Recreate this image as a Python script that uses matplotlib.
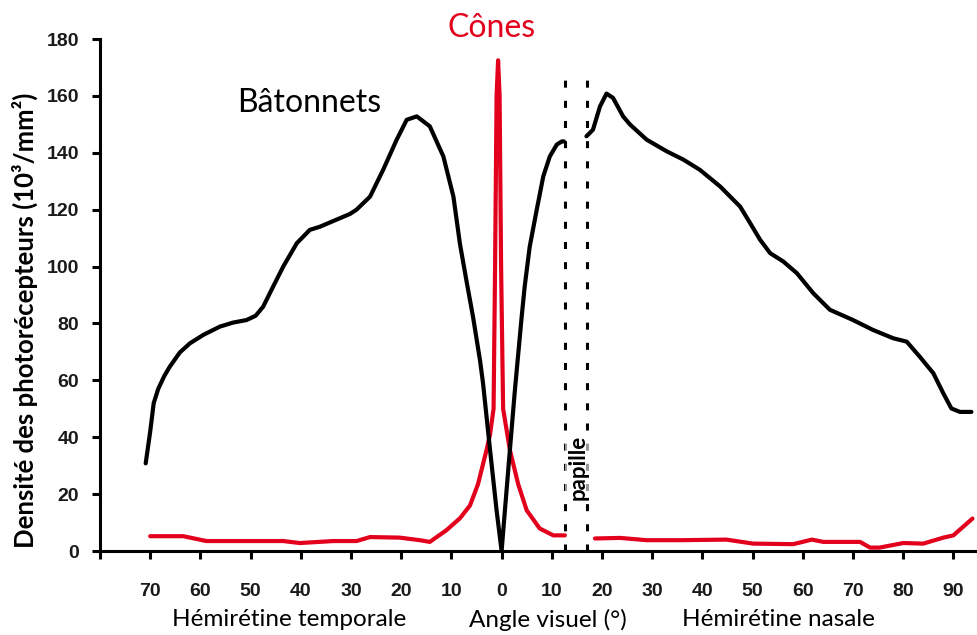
import numpy as np
import matplotlib
matplotlib.use("Agg")
import matplotlib.pyplot as plt

# ---- data (degrees: negative = temporal hemiretina, positive = nasal) ----
rods_deg = [-70.9, -70.0, -69.3, -68.4, -67.2, -66.1, -64.1, -62.1, -59.4, -56.1,
            -53.5, -50.8, -49.0, -47.5, -45.5, -43.5, -40.8, -38.2, -36.2, -34.2,
            -32.2, -30.2, -28.9, -26.2, -23.6, -20.9, -18.9, -16.9, -14.3, -11.6,
            -9.6, -8.3, -7.0, -5.7, -4.3, -3.7, -2.3, -1.0, 0.0,
            0.66, 1.65, 2.65, 4.0, 4.6, 5.6, 7.0, 8.3, 9.6, 11.0, 12.0, 12.4,
            np.nan,
            16.9, 18.2, 19.6, 20.9, 22.2, 24.2, 25.6, 28.9, 32.9, 36.2, 39.5, 43.5,
            47.5, 49.5, 51.5, 53.5, 56.1, 58.8, 62.1, 65.4, 70.0, 74.0, 78.0, 80.7,
            83.3, 86.0, 88.0, 89.6, 91.3, 93.6]
rods_val = [30.8, 42.0, 52.0, 57.0, 61.5, 64.8, 69.8, 73.0, 76.0, 78.9,
            80.3, 81.2, 82.7, 85.9, 93.0, 100.0, 108.2, 112.9, 114.0, 115.5,
            117.0, 118.5, 120.0, 124.6, 134.0, 144.6, 151.6, 152.8, 149.3, 138.7,
            124.6, 108.0, 95.0, 82.4, 67.0, 59.0, 35.5, 14.3, 0.0,
            14.3, 35.5, 56.6, 82.4, 93.0, 107.0, 120.0, 131.7, 138.7, 142.9, 144.0, 144.0,
            np.nan,
            145.8, 148.1, 156.3, 160.8, 159.3, 152.8, 149.9, 144.6, 140.5, 137.6, 134.0, 128.2,
            121.1, 115.3, 109.4, 104.7, 101.8, 97.7, 90.6, 84.8, 81.2, 77.7, 74.8, 73.6,
            68.3, 62.5, 55.4, 50.1, 48.9, 48.9]

cones_deg = [-70.0, -63.4, -58.8, -43.5, -40.2, -33.5, -28.9, -26.2, -20.3, -16.3, -14.3,
             -11.0, -8.3, -6.3, -4.7, -3.0, -2.3, -1.6, -1.3, -1.0, -0.7, -0.4, -0.1,
             0.3, 1.65, 3.3, 5.0, 7.6, 10.3, 12.6,
             np.nan,
             18.6, 23.6, 28.9, 35.5, 44.8, 50.1, 58.1, 61.8, 64.1, 71.4, 73.4, 75.3,
             80.0, 84.0, 88.0, 90.0, 93.8]
cones_val = [5.2, 5.2, 3.5, 3.5, 2.8, 3.5, 3.5, 4.9, 4.7, 3.8, 3.2,
             7.3, 11.5, 16.0, 23.5, 35.5, 41.0, 50.0, 100.0, 160.0, 172.5, 160.0, 100.0,
             50.0, 35.5, 23.5, 14.3, 7.9, 5.5, 5.5,
             np.nan,
             4.4, 4.6, 3.8, 3.8, 4.0, 2.6, 2.4, 4.0, 3.2, 3.2, 1.2, 1.2,
             2.8, 2.6, 4.7, 5.5, 11.4]

papille_bounds = [12.6, 17.1]
papille_top = 167.5

xticks = [-80, -70, -60, -50, -40, -30, -20, -10, 0, 10, 20, 30, 40, 50, 60, 70, 80, 90]
xtick_labels = ["", "70", "60", "50", "40", "30", "20", "10", "0",
                "10", "20", "30", "40", "50", "60", "70", "80", "90"]
yticks = [0, 20, 40, 60, 80, 100, 120, 140, 160, 180]

RED = "#e2001c"
TXT_FONT = ["Lato", "DejaVu Sans"]

fig = plt.figure(figsize=(9.77, 6.35), dpi=100)
ax = fig.add_axes([100 / 977, 84 / 635, 1 - 100 / 977, (551 - 39) / 635])

ax.plot(cones_deg, cones_val, color=RED, lw=3.0, solid_capstyle="round",
        solid_joinstyle="round", zorder=3)
ax.plot(rods_deg, rods_val, color="black", lw=3.0, solid_capstyle="round",
        solid_joinstyle="round", zorder=4)

for xb in papille_bounds:
    ax.plot([xb, xb], [0, papille_top], color="black", lw=2.2,
            linestyle=(0, (2.3, 4.3)), zorder=2, clip_on=False)

ax.set_xlim(-80, 94.7)
ax.set_ylim(0, 180)
ax.set_xticks(xticks)
ax.set_xticklabels(xtick_labels)
ax.set_yticks(yticks)

for s in ["top", "right"]:
    ax.spines[s].set_visible(False)
for s in ["left", "bottom"]:
    ax.spines[s].set_linewidth(2.2)

ax.tick_params(axis="both", direction="out", width=2.2, length=6,
               labelsize=14)
ax.tick_params(axis="x", pad=17)
ax.tick_params(axis="y", pad=9)
for lab in ax.get_xticklabels() + ax.get_yticklabels():
    lab.set_fontfamily("Liberation Sans")
    lab.set_fontweight("bold")
    lab.set_color("#1a1a1a")

# annotations
ax.text(-52.6, 154.5, "Bâtonnets", fontsize=23, family=TXT_FONT,
        ha="left", va="baseline", color="black")
ax.text(-2.0, 180.8, "Cônes", fontsize=23, family=TXT_FONT,
        ha="center", va="baseline", color=RED, clip_on=False)
ax.text(15.2, 29.5, "papille", fontsize=16, family=TXT_FONT, fontweight="bold",
        rotation=90, ha="center", va="center", color="black", zorder=5,
        bbox=dict(facecolor="white", edgecolor="none", alpha=0.6, pad=1.5))

fig.text(289 / 977, 1 - 620 / 635, "Hémirétine temporale", fontsize=17.5,
         family=TXT_FONT, ha="center", va="center")
fig.text(548 / 977, 1 - 620 / 635, "Angle visuel (°)", fontsize=17.5,
         family=TXT_FONT, ha="center", va="center")
fig.text(778 / 977, 1 - 620 / 635, "Hémirétine nasale", fontsize=17.5,
         family=TXT_FONT, ha="center", va="center")

fig.text(25 / 977, 1 - 320 / 635, "Densité des photorécepteurs (10³/mm²)",
         fontsize=18.5, family=TXT_FONT, fontweight="bold", rotation=90,
         ha="center", va="center")

fig.savefig("out.png", dpi=100)
